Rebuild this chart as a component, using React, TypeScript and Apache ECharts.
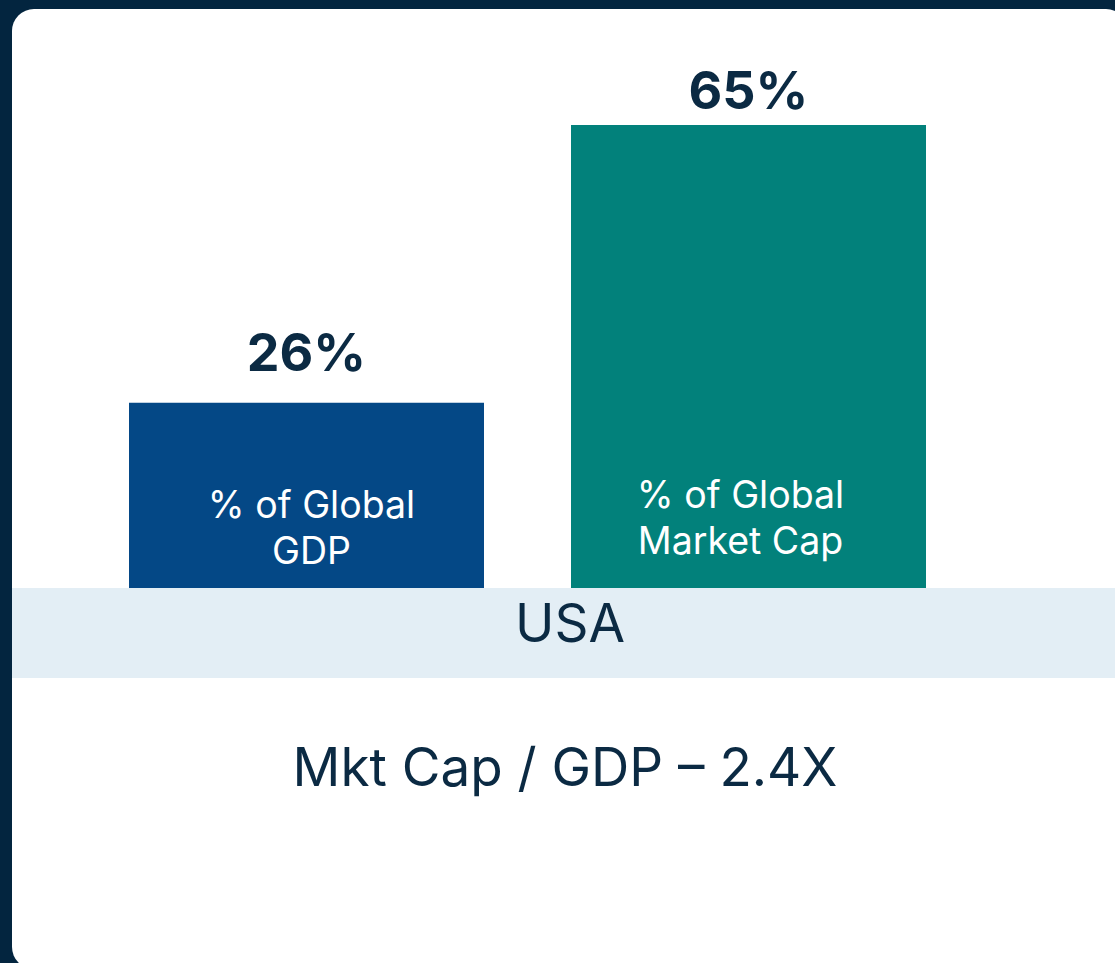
import React, { useEffect, useRef } from "react";
import * as echarts from "echarts";

const categories = ["% of Global\nGDP", "% of Global\nMarket Cap"];
const values = [26, 65];
const valueLabels = ["26%", "65%"];
const regionLabel = "USA";
const ratioLabel = "Mkt Cap / GDP \u2013 2.4X";

const barColors = ["#044886", "#02817B"];
const topLabelDistance = [24, 9];
const innerLabelDistance = [15, 25];
const innerLabelOffsetX = [5, -8];

export default function App() {
  const ref = useRef<HTMLDivElement>(null);
  useEffect(() => {
    if (!ref.current) return;
    const chart = echarts.init(ref.current, null, { renderer: "svg" });
    const font = "Inter, 'Noto Sans', sans-serif";
    chart.setOption({
      animation: false,
      backgroundColor: "#03253F",
      grid: { left: 85.5, width: 884, top: 125, height: 463 },
      xAxis: {
        type: "category",
        data: categories,
        show: false,
      },
      yAxis: { type: "value", min: 0, max: 65, show: false },
      graphic: [
        {
          type: "rect",
          z: -10,
          shape: { x: 12, y: 9, width: 1116, height: 960, r: 22 },
          style: { fill: "#FFFFFF" },
        },
        {
          type: "rect",
          z: -9,
          shape: { x: 12, y: 588, width: 1103, height: 90 },
          style: { fill: "#E3EEF5" },
        },
        {
          type: "text",
          z: 10,
          x: 570,
          y: 623,
          style: {
            text: regionLabel,
            fill: "#0B2A43",
            font: `400 53px ${font}`,
            align: "center",
            verticalAlign: "middle",
          },
        },
        {
          type: "text",
          z: 10,
          x: 565,
          y: 767,
          style: {
            text: ratioLabel,
            fill: "#0B2A43",
            font: `400 53px ${font}`,
            align: "center",
            verticalAlign: "middle",
          },
        },
      ],
      series: [
        {
          type: "bar",
          barWidth: 355,
          data: values.map((v, i) => ({
            value: v,
            itemStyle: { color: barColors[i] },
            label: {
              show: true,
              position: "top",
              distance: topLabelDistance[i],
              formatter: valueLabels[i],
              color: "#0B2A43",
              fontFamily: font,
              fontWeight: 700,
              fontSize: 52,
            },
          })),
        },
        {
          type: "bar",
          barWidth: 355,
          barGap: "-100%",
          z: 5,
          data: values.map((v, i) => ({
            value: v,
            itemStyle: { color: "rgba(0,0,0,0)" },
            label: {
              show: true,
              position: "insideBottom",
              distance: innerLabelDistance[i],
              offset: [innerLabelOffsetX[i], 0],
              formatter: categories[i],
              color: "#FFFFFF",
              fontFamily: font,
              fontSize: 37.5,
              lineHeight: 46,
              align: "center",
            },
          })),
        },
      ],
    });
    return () => chart.dispose();
  }, []);
  return (
    <div
      ref={ref}
      style={{ position: "fixed", left: 0, top: 0, width: 1115, height: 963 }}
    />
  );
}
